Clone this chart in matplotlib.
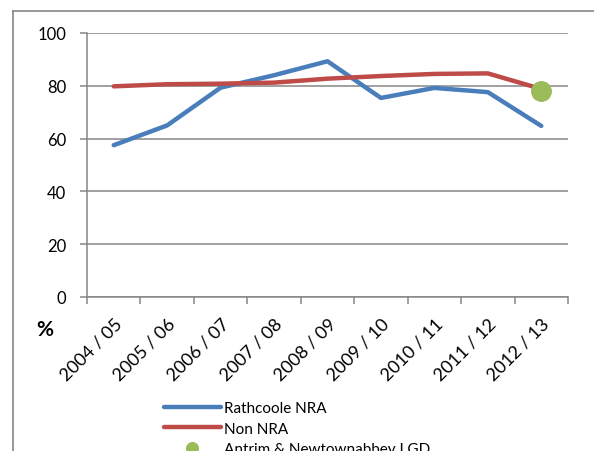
import matplotlib
matplotlib.use("Agg")
import matplotlib.pyplot as plt
from matplotlib.lines import Line2D
import numpy as np

plt.rcParams["font.family"] = ["Lato", "DejaVu Sans"]

years = ["2004 / 05", "2005 / 06", "2006 / 07", "2007 / 08", "2008 / 09",
         "2009 / 10", "2010 / 11", "2011 / 12", "2012 / 13"]
rathcoole = [57.5, 65.0, 79.3, 84.0, 89.3, 75.4, 79.2, 77.6, 64.8]
non_nra = [79.8, 80.6, 80.8, 81.2, 82.7, 83.7, 84.5, 84.7, 78.8]
lgd_value = 78.2  # Antrim & Newtownabbey LGD, 2012/13 only

grey = "#868686"

fig = plt.figure(figsize=(5.94, 4.52), dpi=100)
ax = fig.add_axes([87 / 594, 1 - 298 / 452, 481 / 594, 264 / 452])

x = np.arange(len(years))
ax.plot(x, rathcoole, color="#4A7EBB", lw=3.2, solid_capstyle="round",
        label="Rathcoole NRA", zorder=3)
ax.plot(x, non_nra, color="#BE4B48", lw=3.2, solid_capstyle="round",
        label="Non NRA", zorder=3)
ax.plot([x[-1]], [lgd_value], "o", color="#9BBB59", ms=14, mec="#9BBB59",
        ls="none", label="Antrim & Newtownabbey LGD", zorder=4)

ax.set_xlim(-0.5, len(years) - 0.5)
ax.set_ylim(0, 100)
ax.set_yticks([0, 20, 40, 60, 80, 100])
ax.yaxis.grid(True, color=grey, lw=1.1)
ax.set_axisbelow(True)

ax.set_xticks(np.arange(-0.5, len(years), 1.0))
ax.set_xticklabels([])
ax.set_xticks(x, minor=True)
ax.set_xticklabels(years, minor=True, rotation=45, ha="right",
                   rotation_mode="anchor", fontsize=13)
ax.tick_params(axis="x", which="minor", length=0, pad=13)
ax.tick_params(axis="x", which="major", length=5, color=grey, width=1.1)
ax.tick_params(axis="y", length=5, color=grey, width=1.1, labelsize=12, pad=10)

for s in ["top", "right"]:
    ax.spines[s].set_visible(False)
for s in ["left", "bottom"]:
    ax.spines[s].set_color(grey)
    ax.spines[s].set_linewidth(1.1)

fig.text(45 / 594, 1 - 330 / 452, "%", fontsize=15, fontweight="bold",
         ha="center", va="center")

leg = fig.legend(loc="upper left", bbox_to_anchor=(158 / 594, 1 - 396 / 452),
                 frameon=False, fontsize=11, handlelength=3.7,
                 handletextpad=0.2, labelspacing=0.42, borderaxespad=0,
                 markerscale=0.6)

# outer chart frame (partly cropped)
fig.add_artist(Line2D([13 / 594, 13 / 594], [0, 1 - 12 / 452],
                      color=grey, lw=1.2, transform=fig.transFigure))
fig.add_artist(Line2D([13 / 594, 1], [1 - 12 / 452, 1 - 12 / 452],
                      color=grey, lw=1.2, transform=fig.transFigure))

fig.savefig("out.png", dpi=100)
